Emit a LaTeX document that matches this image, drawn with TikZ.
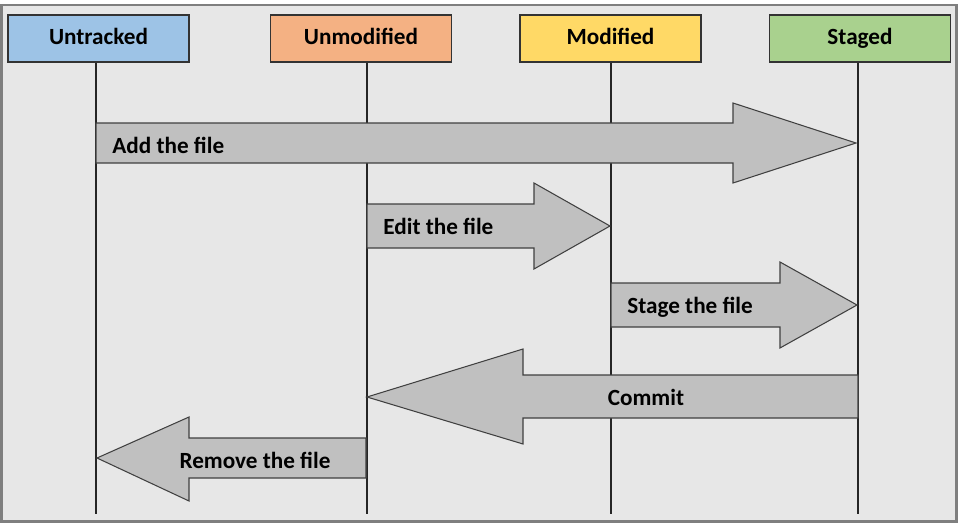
\documentclass[tikz,border=0pt]{standalone}
\usepackage{fontspec}
\setmainfont{Carlito}
\begin{document}
\begin{tikzpicture}[x=0.02cm,y=-0.02cm,
  hdr/.style={draw=black!80,line width=0.7pt,minimum width=181*0.02cm,minimum height=47*0.02cm,inner sep=0pt,text height=0.3cm,text depth=0.08cm,font=\bfseries\fontsize{13.2}{15}\selectfont},
  lifeline/.style={draw=black!85,line width=0.6pt},
  blockarrow/.style={draw=black!75,line width=0.6pt,fill=arrowgray},
  lbl/.style={inner sep=0pt,text height=0.3cm,text depth=0.08cm,font=\bfseries\fontsize{13.2}{15}\selectfont}]
\definecolor{bggray}{HTML}{E7E7E7}
\definecolor{framegray}{HTML}{7F7F7F}
\definecolor{arrowgray}{HTML}{C0C0C0}
\definecolor{cblue}{HTML}{9DC3E6}
\definecolor{corange}{HTML}{F4B183}
\definecolor{cyellow}{HTML}{FFD966}
\definecolor{cgreen}{HTML}{A9D18E}
\useasboundingbox (0,0) rectangle (965,531);
\fill[white] (0,0) rectangle (965,531);
\draw[fill=bggray,draw=framegray,line width=1.7pt] (1.5,5) rectangle (956.5,521.5);
% header boxes
\node[hdr,fill=cblue]   (untracked)  at (98.5,38.5)  {Untracked};
\node[hdr,fill=corange] (unmodified) at (361,38.5)   {Unmodified};
\node[hdr,fill=cyellow] (modified)   at (610.5,38.5) {Modified};
\node[hdr,fill=cgreen]  (staged)     at (860,38.5)   {Staged};
% lifeline ends
\coordinate (uE) at (96,514);
\coordinate (nE) at (367,514);
\coordinate (mE) at (611,514);
\coordinate (sE) at (858,514);
\draw[lifeline] (untracked.south -| uE) -- (uE);
\draw[lifeline] (unmodified.south -| nE) -- (nE);
\draw[lifeline] (modified.south -| mE) -- (mE);
\draw[lifeline] (staged.south -| sE) -- (sE);
% block arrows
\draw[blockarrow] (96,123) -- (733,123) -- (733,103) -- (856,143) -- (733,183) -- (733,163) -- (96,163) -- cycle;
\draw[blockarrow] (367,204) -- (534,204) -- (534,183) -- (610,226) -- (534,269) -- (534,248) -- (367,248) -- cycle;
\draw[blockarrow] (611,283) -- (780,283) -- (780,262) -- (857,305) -- (780,348) -- (780,327) -- (611,327) -- cycle;
\draw[blockarrow] (858,375) -- (523,375) -- (523,349) -- (367,397) -- (523,444) -- (523,418) -- (858,418) -- cycle;
\draw[blockarrow] (366,438) -- (189,438) -- (189,417) -- (97,458) -- (189,501) -- (189,478) -- (366,478) -- cycle;
% labels
\node[lbl,anchor=west] (add)    at (112,148) {Add the file};
\node[lbl,anchor=west] (edit)   at (383,229) {Edit the file};
\node[lbl,anchor=west] (stage)  at (627,308) {Stage the file};
\node[lbl]             (commit) at (646,400) {Commit};
\node[lbl]             (remove) at (255,463) {Remove the file};
\end{tikzpicture}
\end{document}
